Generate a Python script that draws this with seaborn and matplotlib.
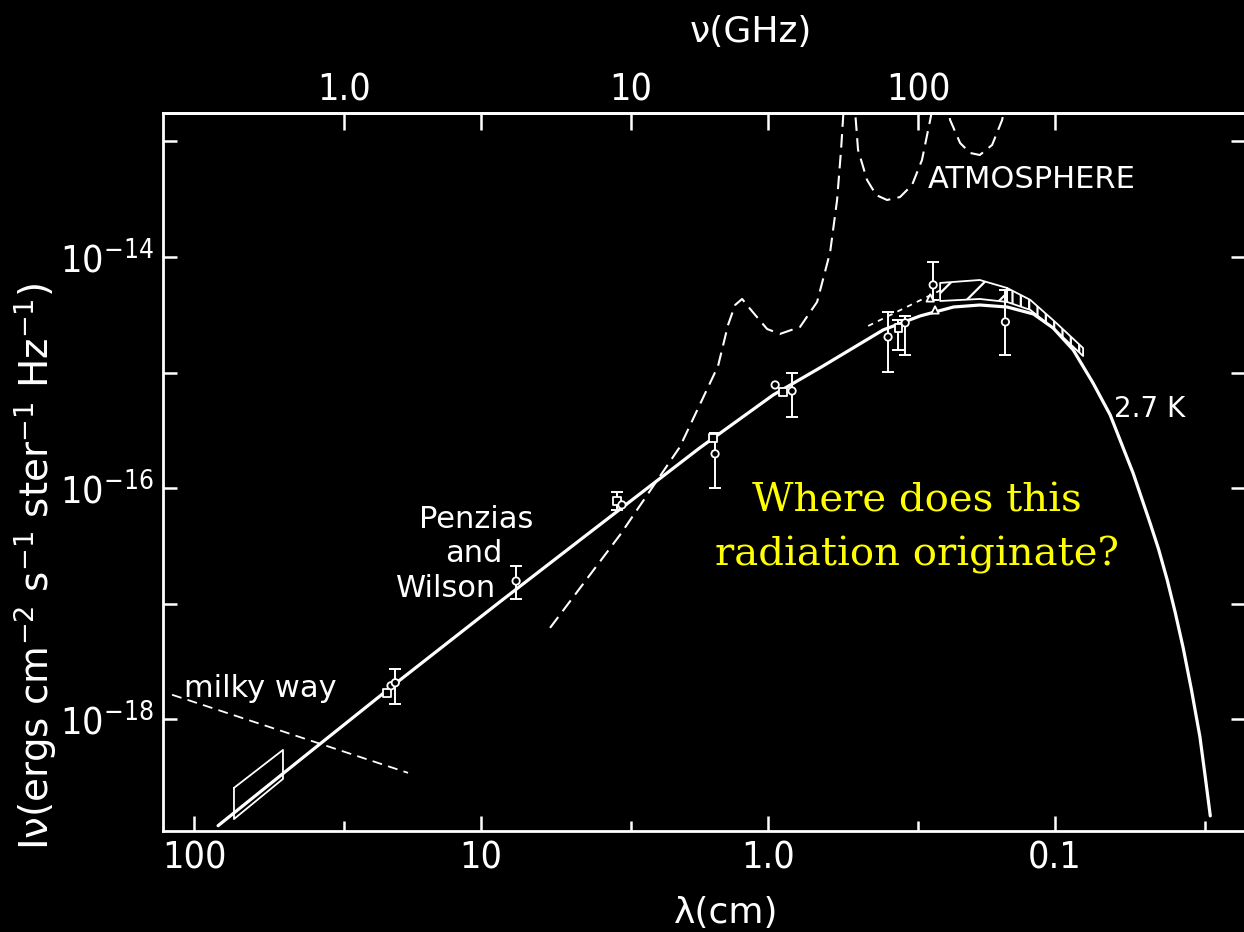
import matplotlib
matplotlib.use("Agg")
import matplotlib.pyplot as plt
import numpy as np
import pandas as pd
import seaborn as sns
from matplotlib import font_manager
from matplotlib.font_manager import FontProperties
from matplotlib.ticker import FixedLocator, FixedFormatter, NullLocator, NullFormatter

# ---------------------------------------------------------------------------
# Cosmic background spectrum: wavelength in cm, intensity in erg cm^-2 s^-1 sr^-1 Hz^-1
# ---------------------------------------------------------------------------
bb_wavelength = [82.5, 42.7, 19.15, 8.59, 4.52, 2.58, 1.73, 0.96, 0.659, 0.397,
                 0.295, 0.226, 0.183, 0.147, 0.119, 0.1016, 0.0865, 0.0738,
                 0.0643, 0.0535, 0.0467, 0.0436, 0.0407, 0.0382, 0.0358,
                 0.0335, 0.0313, 0.0300, 0.0288]
bb_intensity = [1.20e-19, 4.46e-19, 2.19e-18, 1.04e-17, 3.56e-17, 1.04e-16,
                2.23e-16, 6.40e-16, 1.10e-15, 2.34e-15, 3.09e-15, 3.69e-15,
                3.84e-15, 3.69e-15, 3.21e-15, 2.43e-15, 1.57e-15, 8.13e-16,
                4.30e-16, 1.35e-16, 5.0e-17, 2.96e-17, 1.61e-17, 8.5e-18,
                4.15e-18, 1.8e-18, 7.05e-19, 3.2e-19, 1.46e-19]

# Atmospheric emission (dashed)
atm_wavelength = [5.75, 3.28, 2.03, 1.494, 1.379, 1.303, 1.232, 1.155, 1.008,
                  0.908, 0.774, 0.675, 0.608, 0.575, 0.557, 0.543, 0.522,
                  0.501, 0.486, 0.452, 0.420, 0.385, 0.347, 0.315, 0.291,
                  0.2725, 0.2516, 0.2322, 0.2143, 0.1978, 0.183, 0.1658,
                  0.1530, 0.1435]
atm_intensity = [6.18e-18, 3.94e-17, 2.27e-16, 1.14e-15, 2.58e-15, 3.84e-15,
                 4.33e-15, 3.55e-15, 2.38e-15, 2.16e-15, 2.48e-15, 4.08e-15,
                 1.10e-14, 3.11e-14, 8.43e-14, 2.28e-13, 5.06e-13, 2.28e-13,
                 8.43e-14, 4.63e-14, 3.43e-14, 3.11e-14, 3.30e-14, 4.20e-14,
                 6.90e-14, 1.53e-13, 4.15e-13, 1.53e-13, 9.68e-14, 7.94e-14,
                 7.62e-14, 9.31e-14, 1.53e-13, 3.40e-13]

# Galactic (Milky Way) foreground
milky_wavelength = [119.3, 17.97]
milky_intensity = [1.63e-18, 3.44e-19]

# Low-frequency measurement box
box_wavelength = [72.6, 49.0, 49.0, 72.6, 72.6]
box_intensity = [2.55e-19, 5.43e-19, 3.05e-19, 1.37e-19, 2.55e-19]

# Short dashed limit near the peak
limit_wavelength = [0.448, 0.2416]
limit_intensity = [2.53e-15, 5.39e-15]

# Individual measurements
obs_wavelength = [21.3, 20.6, 19.9, 7.55, 3.36, 3.23, 1.555, 1.530, 0.945,
                  0.887, 0.825, 0.382, 0.352, 0.333, 0.266, 0.2725, 0.262, 0.149]
obs_intensity = [1.69e-18, 1.95e-18, 2.07e-18, 1.57e-17, 7.75e-17, 7.16e-17,
                 2.72e-16, 1.98e-16, 7.81e-16, 6.79e-16, 6.93e-16, 2.03e-15,
                 2.43e-15, 2.69e-15, 5.73e-15, 4.42e-15, 3.48e-15, 2.74e-15]
obs_low = [np.nan, np.nan, 1.36e-18, 1.10e-17, 6.48e-17, np.nan, np.nan,
           1.00e-16, np.nan, np.nan, 4.13e-16, 1.01e-15, 1.57e-15, 1.42e-15,
           4.25e-15, np.nan, np.nan, 1.42e-15]
obs_high = [np.nan, np.nan, 2.73e-18, 2.12e-17, 9.27e-17, np.nan, np.nan,
            3.00e-16, np.nan, np.nan, 9.92e-16, 3.34e-15, 2.85e-15, 3.09e-15,
            9.05e-15, np.nan, np.nan, 5.18e-15]
obs_kind = ["square", "circle", "circle", "circle", "square", "circle",
            "square", "circle", "circle", "square", "circle", "circle",
            "square", "circle", "circle", "triangle", "triangle", "circle"]

# Hatched band of measurements around the peak
band1_wavelength = [0.2516, 0.183, 0.147]
band1_upper = [5.96e-15, 6.32e-15, 5.39e-15]
band1_lower = [4.16e-15, 4.33e-15, 4.08e-15]
band2_wavelength = [0.147, 0.122, 0.100, 0.0799]
band2_upper = [5.39e-15, 4.25e-15, 2.74e-15, 1.63e-15]
band2_lower = [4.08e-15, 3.48e-15, 2.34e-15, 1.39e-15]

# Axis ticks
lam_major = [100, 10, 1, 0.1]
lam_major_labels = ["100", "10", "1.0", "0.1"]
lam_minor = [30, 3, 0.3, 0.03]
nu_ticks = [1, 3, 10, 30, 100, 300]
nu_labels = ["1.0", "", "10", "", "100", ""]
int_major = [1e-18, 1e-16, 1e-14]
int_major_labels = [r"$\mathregular{10^{-18}}$", r"$\mathregular{10^{-16}}$",
                    r"$\mathregular{10^{-14}}$"]
int_minor = [1e-17, 1e-15, 1e-13]

# ---------------------------------------------------------------------------
sns.set_theme(style="dark", rc={
    "figure.facecolor": "black", "axes.facecolor": "black",
    "axes.edgecolor": "white", "text.color": "white",
    "axes.labelcolor": "white",
    "xtick.color": "white", "ytick.color": "white",
    "axes.grid": False, "hatch.color": "white", "hatch.linewidth": 1.6,
})
plt.rcParams["font.family"] = ["DejaVu Sans"]


def narrow_font_file():
    """Return a narrow sans font file for the numeric tick labels, if any."""
    fonts = font_manager.fontManager.ttflist
    for f in fonts:
        if f.name == "Liberation Sans Narrow" and f.style == "normal" \
                and f.weight in (400, "normal", "regular"):
            return f.fname
    for f in fonts:
        if f.name in ("DejaVu Sans", "Noto Sans", "Open Sans", "Roboto") \
                and f.stretch in ("condensed", "semi-condensed") \
                and f.style == "normal" and f.weight in (400, "normal", "regular"):
            return f.fname
    return None


_narrow = narrow_font_file()
if _narrow is not None:
    tick_font = FontProperties(fname=_narrow, size=27)
else:
    tick_font = FontProperties(family="Liberation Sans", size=24)

W, H = 1244, 932
fig = plt.figure(figsize=(W / 100, H / 100), dpi=100)
ax = fig.add_axes([163 / W, 1 - 831 / H, (1245 - 163) / W, (831 - 113) / H])
ax.set_facecolor("black")
ax.set_xscale("log")
ax.set_yscale("log")
ax.set_xlim(128.3, 0.0218)
ax.set_ylim(1.08e-19, 1.76e-13)

for side in ["left", "right", "top", "bottom"]:
    ax.spines[side].set_color("white")
    ax.spines[side].set_linewidth(2.0)

# blackbody curve
bb = pd.DataFrame({"wavelength": bb_wavelength, "intensity": bb_intensity})
sns.lineplot(data=bb, x="wavelength", y="intensity", ax=ax, color="white",
             lw=2.3, sort=False, estimator=None)

# atmosphere
atm = pd.DataFrame({"wavelength": atm_wavelength, "intensity": atm_intensity})
sns.lineplot(data=atm, x="wavelength", y="intensity", ax=ax, color="white",
             lw=1.5, ls=(0, (6.5, 3.5)), sort=False, estimator=None)

# milky way foreground
ax.plot(milky_wavelength, milky_intensity, color="white", lw=1.3,
        ls=(0, (5.5, 3.5)))

# limit
ax.plot(limit_wavelength, limit_intensity, color="white", lw=1.3,
        ls=(0, (3, 3)))

# measurement box
ax.plot(box_wavelength, box_intensity, color="white", lw=1.3)

# hatched band
ax.fill_between(band1_wavelength, band1_lower, band1_upper, facecolor="none",
                edgecolor="white", hatch="/", lw=1.3)
ax.fill_between(band2_wavelength, band2_lower, band2_upper, facecolor="none",
                edgecolor="white", hatch="||", lw=1.3)

# data points with error bars
obs = pd.DataFrame({"wavelength": obs_wavelength, "intensity": obs_intensity,
                    "low": obs_low, "high": obs_high, "kind": obs_kind})
err = obs.dropna(subset=["low", "high"])
ax.errorbar(err["wavelength"], err["intensity"],
            yerr=[err["intensity"] - err["low"], err["high"] - err["intensity"]],
            fmt="none", ecolor="white", elinewidth=1.4, capsize=4.5,
            capthick=1.4, zorder=3)
sns.scatterplot(data=obs, x="wavelength", y="intensity", style="kind",
                markers={"circle": "o", "square": "s", "triangle": "^"},
                ax=ax, color="black", edgecolor="white", linewidth=1.3,
                s=28, legend=False, zorder=4)

# ticks
ax.xaxis.set_major_locator(FixedLocator(lam_major))
ax.xaxis.set_major_formatter(FixedFormatter(lam_major_labels))
ax.xaxis.set_minor_locator(FixedLocator(lam_minor))
ax.xaxis.set_minor_formatter(NullFormatter())
ax.yaxis.set_major_locator(FixedLocator(int_major))
ax.yaxis.set_major_formatter(FixedFormatter(int_major_labels))
ax.yaxis.set_minor_locator(FixedLocator(int_minor))
ax.yaxis.set_minor_formatter(NullFormatter())
ax.tick_params(axis="x", which="both", direction="in", bottom=True, top=False,
               width=1.8, pad=7, colors="white")
ax.tick_params(axis="x", which="major", length=10.5)
ax.tick_params(axis="x", which="minor", length=7.5)
ax.tick_params(axis="y", which="both", direction="in", left=True, right=True,
               length=10, width=1.8, pad=7, colors="white")

# frequency axis on top
sec = ax.secondary_xaxis("top", functions=(lambda lam: 30.0 / lam,
                                            lambda nu: 30.0 / nu))
sec.set_xticks(nu_ticks)
sec.set_xticklabels(nu_labels)
sec.xaxis.set_minor_locator(NullLocator())
sec.xaxis.set_minor_formatter(NullFormatter())
sec.spines["top"].set_color("white")
sec.spines["top"].set_linewidth(2.0)
sec.tick_params(axis="x", which="major", direction="in", length=12, width=1.8,
                pad=3, colors="white")

for lbl in ax.get_xticklabels() + ax.get_yticklabels() + sec.get_xticklabels():
    lbl.set_fontproperties(tick_font)

# axis titles
ax.set_xlabel("λ(cm)", fontsize=26, color="white")
ax.xaxis.set_label_coords((726 - 163) / 1082, (831 - 913) / 718)
ax.xaxis.label.set_va("center")
ax.set_ylabel(r"Iν(ergs cm$\mathregular{^{-2}}$ s$\mathregular{^{-1}}$ "
              r"ster$\mathregular{^{-1}}$ Hz$\mathregular{^{-1}}$)",
              fontsize=28, color="white")
ax.yaxis.set_label_coords((35 - 163) / 1082, (831 - 566) / 718)
ax.yaxis.label.set_va("center")


def px(x, y):
    return x / W, 1 - y / H


fig.text(*px(751, 32), "ν(GHz)", fontsize=26, color="white",
         ha="center", va="center")

# annotations
fig.text(*px(928, 188), "ATMOSPHERE", fontsize=22, color="white",
         ha="left", va="baseline")
fig.text(*px(184, 697), "milky way", fontsize=22, color="white",
         ha="left", va="baseline")
fig.text(*px(476, 528), "Penzias", fontsize=22, color="white",
         ha="center", va="baseline")
fig.text(*px(474, 562), "and", fontsize=22, color="white",
         ha="center", va="baseline")
fig.text(*px(446, 597), "Wilson", fontsize=22, color="white",
         ha="center", va="baseline")
fig.text(*px(1114, 417), "2.7 K", fontsize=20, color="white",
         ha="left", va="baseline")
fig.text(*px(917, 512), "Where does this", fontsize=29, color="#ffff00",
         family="DejaVu Serif", ha="center", va="baseline")
fig.text(*px(917, 566), "radiation originate?", fontsize=29, color="#ffff00",
         family="DejaVu Serif", ha="center", va="baseline")

fig.savefig("out.png", dpi=100, facecolor="black")
